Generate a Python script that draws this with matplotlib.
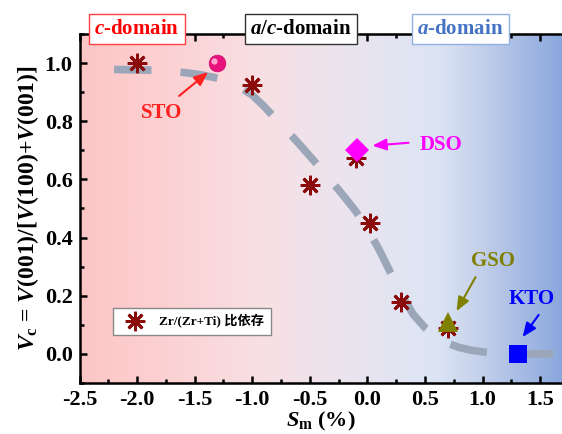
import numpy as np
import matplotlib
matplotlib.use("Agg")
import matplotlib.pyplot as plt
from matplotlib.colors import LinearSegmentedColormap
from matplotlib.lines import Line2D
from matplotlib import transforms

plt.rcParams['font.family'] = ['Liberation Serif', 'Noto Sans CJK SC']
plt.rcParams['font.weight'] = 'bold'
plt.rcParams['axes.unicode_minus'] = False
plt.rcParams['mathtext.fontset'] = 'custom'
plt.rcParams['mathtext.rm'] = 'Liberation Serif:bold'
plt.rcParams['mathtext.it'] = 'Liberation Serif:italic:bold'
plt.rcParams['mathtext.bf'] = 'Liberation Serif:bold'

# Zr/(Zr+Ti) series
zr_x = [-2.0, -1.0, -0.5, -0.1, 0.02, 0.29, 0.70]
zr_y = [1.0, 0.925, 0.58, 0.675, 0.45, 0.18, 0.09]

# substrates
sto = (-1.31, 1.0)
dso = (-0.09, 0.70)
gso = (0.70, 0.11)
kto = (1.31, 0.0)

# guide curve
guide_x = [-2.2, -1.8, -1.6, -1.45, -1.3, -1.2, -1.1, -1.0, -0.9, -0.8, -0.7,
           -0.6, -0.5, -0.4, -0.3, -0.2, -0.1, 0.0, 0.1, 0.2, 0.3, 0.4, 0.5,
           0.6, 0.7, 0.8, 0.9, 1.0, 1.15, 1.3, 1.5, 1.7]
guide_y = [0.978, 0.975, 0.968, 0.96, 0.948, 0.935, 0.915, 0.89, 0.852, 0.81,
           0.768, 0.725, 0.68, 0.635, 0.588, 0.54, 0.49, 0.43, 0.36, 0.28,
           0.2, 0.135, 0.09, 0.058, 0.036, 0.022, 0.013, 0.007, 0.003, 0.0,
           0.0, 0.0]

# background gradient stops (x position, colour)
bg_pos = [-2.5, -1.7, -0.9, -0.2, 0.6, 1.0, 1.69]
bg_col = ['#fcc6c6', '#fcd2d4', '#f7e0e4', '#ebe4ee', '#dce5f4', '#c3cfeb', '#8aa7dc']

xmin, xmax, ymin, ymax = -2.5, 1.69, -0.1, 1.1

fig = plt.figure(figsize=(5.62, 4.34), dpi=100)
ax = fig.add_axes([0.1415, 0.1175, 0.8585, 0.8042])

frac = [(p - xmin) / (xmax - xmin) for p in bg_pos]
cmap = LinearSegmentedColormap.from_list('bg', list(zip(frac, bg_col)))
ax.imshow(np.linspace(0, 1, 400).reshape(1, -1), cmap=cmap, aspect='auto',
          extent=[xmin, xmax, ymin, ymax], zorder=0)

ax.plot(guide_x, guide_y, color='#9ba7b8', lw=5.5, dashes=(4.9, 3.8),
        solid_capstyle='butt', dash_capstyle='butt', zorder=2)

ax.plot(zr_x, zr_y, ls='none', marker=(8, 2, 0), ms=14, mew=2,
        color='#8b0a0a', zorder=3)

ax.plot(*sto, 'o', ms=12, color='#e8137c', mec='#d00868', mew=0.5, zorder=4)
hl = transforms.offset_copy(ax.transData, fig=fig, x=-1.5, y=1.5, units='points')
ax.plot(*sto, 'o', ms=4.5, color='#ffa6d0', mew=0, transform=hl, zorder=5)
ax.plot(*dso, 'D', ms=12, color='#ff00ff', mew=0, zorder=4)
ax.plot(*gso, '^', ms=14, color='#7f7f00', mew=0, zorder=4)
ax.plot(*kto, 's', ms=13, color='#0000ff', mew=0, zorder=4)

def note(xy, xytext, color):
    ax.annotate('', xy=xy, xytext=xytext,
                arrowprops=dict(arrowstyle='-|>,head_length=0.6,head_width=0.25',
                                color=color, lw=1.5, mutation_scale=14,
                                shrinkA=0, shrinkB=0),
                zorder=6)

note((-1.383, 0.969), (-1.635, 0.887), '#ff2020')
note((0.043, 0.716), (0.357, 0.726), '#ff00ff')
note((0.774, 0.147), (0.939, 0.264), '#808000')
note((1.348, 0.058), (1.487, 0.134), '#0000ff')

ax.text(-1.79, 0.83, 'STO', color='#ff2020', fontsize=15, ha='center', va='center')
ax.text(0.64, 0.72, 'DSO', color='#ff00ff', fontsize=15, ha='center', va='center')
ax.text(1.09, 0.32, 'GSO', color='#808000', fontsize=15, ha='center', va='center')
ax.text(1.43, 0.19, 'KTO', color='#0000ff', fontsize=15, ha='center', va='center')

domains = [(-2.0, r'$c$-domain', '#ff0000', '#ff4040'),
           (-0.58, r'$a/c$-domain', 'black', '#333333'),
           (0.81, r'$a$-domain', '#4472c4', '#8fb0e0')]
for xc, label, tc, ec in domains:
    ax.text(xc, 1.117, label, color=tc, fontsize=15, fontweight='bold',
            ha='center', va='center', clip_on=False, zorder=10,
            bbox=dict(boxstyle='square,pad=0.25', fc='white', ec=ec, lw=1.0))

handle = Line2D([], [], ls='none', marker=(8, 2, 0), ms=14, mew=2, color='#8b0a0a')
leg = ax.legend([handle], ['Zr/(Zr+Ti) 比依存'], loc='lower left',
                bbox_to_anchor=(0.069, 0.1375), borderaxespad=0, fancybox=False,
                framealpha=1, edgecolor='#888888', prop={'size': 9.5, 'weight': 'bold'},
                handletextpad=0.6, borderpad=0.5, handlelength=2.4)
leg.get_frame().set_linewidth(1.0)

ax.set_xlim(xmin, xmax)
ax.set_ylim(ymin, ymax)
ax.set_xticks(np.arange(-2.5, 1.6, 0.5))
ax.set_yticks(np.arange(0, 1.01, 0.2))
ax.set_xticks(np.arange(-2.25, 1.7, 0.5), minor=True)
ax.set_yticks(np.arange(-0.1, 1.1, 0.2), minor=True)
ax.tick_params(which='both', direction='in', top=True, right=False, width=1.8,
               labelsize=16, pad=5)
ax.tick_params(which='major', length=5)
ax.tick_params(which='minor', length=3)
for lbl in ax.get_xticklabels() + ax.get_yticklabels():
    lbl.set_fontweight('bold')
for s in ['left', 'bottom', 'top']:
    ax.spines[s].set_linewidth(1.8)
ax.spines['right'].set_visible(False)

ax.set_xlabel(r'$S_\mathrm{m}$ (%)', fontsize=16, fontweight='bold', labelpad=0)
ax.set_ylabel(r'$V_\mathrm{c}$ = $V$(001)/[$V$(100)+$V$(001)]', fontsize=17,
              fontweight='bold', labelpad=3)

fig.savefig('out.png', dpi=100)
